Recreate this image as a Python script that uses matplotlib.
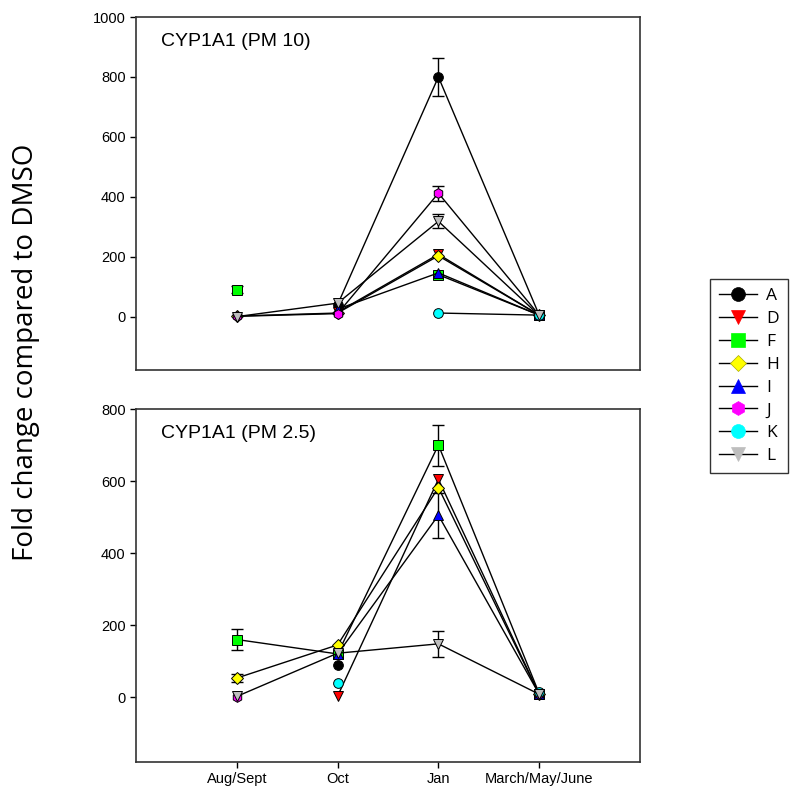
import numpy as np
import matplotlib
matplotlib.use("Agg")
import matplotlib.pyplot as plt
from matplotlib.lines import Line2D

nan = np.nan
months = ["Aug/Sept", "Oct", "Jan", "March/May/June"]
series = ["A", "D", "F", "H", "I", "J", "K", "L"]
colors = {"A": "#000000", "D": "#ff0000", "F": "#00ff00", "H": "#ffff00",
          "I": "#0000ff", "J": "#ff00ff", "K": "#00ffff", "L": "#bebebe"}
markers = {"A": "o", "D": "v", "F": "s", "H": "D", "I": "^", "J": "h", "K": "o", "L": "v"}

# PM10 panel
pm10_A = [nan, 40, 800, 5]
pm10_D = [nan, 15, 208, 5]
pm10_F = [90, nan, 140, 5]
pm10_H = [2, 12, 203, 5]
pm10_I = [nan, 25, 146, 5]
pm10_J = [1, 10, 412, 5]
pm10_K = [nan, nan, 12, 5]
pm10_L = [0, 45, 318, 4]
pm10_err_A = [0, 0, 62, 0]
pm10_err_F = [12, 0, 0, 0]
pm10_err_J = [0, 0, 25, 0]
pm10_err_L = [0, 0, 23, 0]

# PM2.5 panel
pm25_A = [nan, 88, nan, 8]
pm25_D = [nan, 3, 605, 8]
pm25_F = [160, 120, 700, 10]
pm25_H = [53, 145, 582, 8]
pm25_I = [nan, 120, 505, 8]
pm25_J = [1, nan, nan, 8]
pm25_K = [nan, 38, nan, 14]
pm25_L = [2, 122, 148, 8]
pm25_err_F = [28, 0, 57, 0]
pm25_err_H = [12, 0, 0, 0]
pm25_err_I = [0, 0, 62, 0]
pm25_err_L = [0, 0, 37, 0]

pm10 = {"A": pm10_A, "D": pm10_D, "F": pm10_F, "H": pm10_H, "I": pm10_I,
        "J": pm10_J, "K": pm10_K, "L": pm10_L}
pm10_err = {"A": pm10_err_A, "F": pm10_err_F, "J": pm10_err_J, "L": pm10_err_L}
pm25 = {"A": pm25_A, "D": pm25_D, "F": pm25_F, "H": pm25_H, "I": pm25_I,
        "J": pm25_J, "K": pm25_K, "L": pm25_L}
pm25_err = {"F": pm25_err_F, "H": pm25_err_H, "I": pm25_err_I, "L": pm25_err_L}

fig = plt.figure(figsize=(8, 8.02), dpi=100)
ax1 = fig.add_axes([0.17, 0.5387, 0.63, 0.4401])
ax2 = fig.add_axes([0.17, 0.0499, 0.63, 0.4401])
x = np.arange(1, len(months) + 1)

def draw(ax, data, errs, title, ylim, yticks):
    for s in series:
        if s in errs:
            vals = np.array(data[s], dtype=float)
            e = np.array(errs[s], dtype=float)
            m = e > 0
            ax.errorbar(x[m], vals[m], yerr=e[m], fmt="none", ecolor="black",
                        elinewidth=1, capsize=4, capthick=1, zorder=2)
    for s in series:
        ax.plot(x, data[s], color="black", lw=1, marker=markers[s],
                ms=7 if markers[s] != "D" else 6,
                mfc=colors[s], mec="black", mew=0.7, zorder=3)
    ax.set_xlim(0, 5)
    ax.set_ylim(*ylim)
    ax.set_yticks(yticks)
    ax.tick_params(direction="out", length=4, width=1, labelsize=10.5)
    for sp in ax.spines.values():
        sp.set_linewidth(1.2)
        sp.set_color("#333333")
    ax.text(0.05, 0.955, title, transform=ax.transAxes, fontsize=14,
            family="Liberation Sans", va="top", ha="left")
    for lab in ax.get_yticklabels() + ax.get_xticklabels():
        lab.set_family("Liberation Sans")

draw(ax1, pm10, pm10_err, "CYP1A1 (PM 10)", (-178, 1000), [0, 200, 400, 600, 800, 1000])
draw(ax2, pm25, pm25_err, "CYP1A1 (PM 2.5)", (-180, 800), [0, 200, 400, 600, 800])
ax1.set_xticks([])
ax2.set_xticks(x)
ax2.set_xticklabels(months, family="Liberation Sans", fontsize=10.5)

fig.text(0.033, 0.561, "Fold change compared to DMSO", rotation=90, fontsize=20,
         family="Open Sans", va="center", ha="center")

handles = [Line2D([0], [0], color="black", lw=1, marker=markers[s],
                  ms=10 if markers[s] != "D" else 8,
                  mfc=colors[s], mec=colors[s] if s != "H" else "#aaaa00", mew=0.5)
           for s in series]
leg = fig.legend(handles, series, loc="upper left", bbox_to_anchor=(0.8875, 0.652),
                 borderaxespad=0, frameon=True, fancybox=False, edgecolor="black",
                 handlelength=2.2, labelspacing=0.39, borderpad=0.5, handletextpad=0.55,
                 prop={"family": "Open Sans", "size": 12.5})
leg.get_frame().set_linewidth(1)

fig.savefig("out.png", dpi=100)
